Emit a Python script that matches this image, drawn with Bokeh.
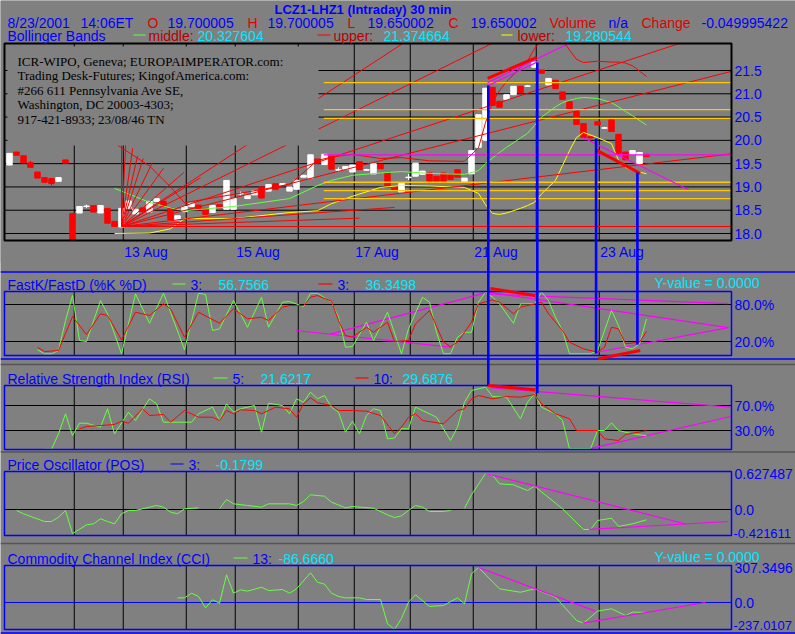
import math
from bokeh.plotting import figure
from bokeh.models import Range1d
from bokeh.core.properties import value
from bokeh.embed import file_html
from bokeh.resources import INLINE

NA = float("nan")

# ------------------------------------------------------------------ data
# 30-minute bars, index 0 = first bar shown (9 Aug 2001) ... 91 = last bar (23 Aug 14:00)
bar_open = [19.47, 19.75, 19.67, 19.52, 19.32, 19.20, 19.18, 19.12, 19.58, 18.43,
            18.44, 18.58, 18.60, 18.44, 18.54, 18.26, 18.14, 18.54, 18.42, 18.55,
            18.46, 18.69, 18.69, 18.55, 18.29, 18.47, 18.58, 18.61, 18.54, 18.45,
            18.62, 18.52, 18.52, 18.85, 18.75, 18.83, 19.00, 18.91, 19.07, 19.03,
            18.91, 18.95, 19.21, 19.19, 19.60, 19.48, 19.66, 19.36, 19.38, 19.32,
            19.54, 19.36, 19.28, 19.49, 19.31, 19.00, 18.89, 19.20, 19.23, 19.27,
            19.30, 19.23, 19.30, 19.28, 19.37, 19.12, 19.28, 19.85, 20.00, 21.14,
            20.84, 20.88, 20.98, 21.16, 21.16, 21.57, 21.51, 21.19, 21.29, 21.04,
            20.83, 20.62, 20.36, 20.08, 20.40, 20.26, 20.44, 20.13, 19.75, 19.70,
            19.48, 19.700005]
bar_close = [19.72, 19.68, 19.52, 19.42, 19.19, 19.10, 19.07, 19.20, 19.51, 17.86,
             18.58, 18.59, 18.46, 18.60, 18.22, 18.15, 18.54, 18.70, 18.52, 18.47,
             18.69, 18.75, 18.58, 18.30, 18.38, 18.58, 18.65, 18.51, 18.41, 18.60,
             18.55, 19.14, 18.75, 18.86, 18.82, 18.92, 18.76, 19.05, 18.95, 19.07,
             19.00, 19.14, 19.25, 19.69, 19.51, 19.70, 19.38, 19.37, 19.44, 19.47,
             19.37, 19.37, 19.50, 19.39, 19.02, 18.92, 19.08, 19.21, 19.51, 19.34,
             19.12, 19.12, 19.12, 19.16, 19.21, 19.19, 19.78, 20.55, 21.12, 20.75,
             20.71, 20.98, 21.16, 21.02, 21.17, 21.68, 21.44, 21.33, 21.11, 20.88,
             20.67, 20.34, 20.06, 20.05, 20.33, 20.27, 20.19, 19.72, 19.58, 19.78,
             19.74, 19.650002]
wick_idx = [3, 6, 11, 33, 47, 51, 57, 74, 85]
wick_high = [19.56, 19.18, 18.62, 18.90, 19.42, 19.39, 19.28, 21.19, 20.29]
wick_low = [19.42, 19.00, 18.55, 18.82, 19.32, 19.35, 19.15, 21.16, 20.26]

day_start_idx = [9, 16, 25, 32, 41, 49, 57, 66, 75, 84]
date_label_idx = [16, 32, 49, 66, 84]
date_labels = ["13 Aug", "15 Aug", "17 Aug", "21 Aug", "23 Aug"]

price_ticks = [18.0, 18.5, 19.0, 19.5, 20.0, 20.5, 21.0, 21.5]
price_tick_labels = ["18.0", "18.5", "19.0", "19.5", "20.0", "20.5", "21.0", "21.5"]

# Bollinger bands (read at turning points)
bb_idx = [15, 20, 23, 25, 32, 40, 44, 46, 49, 53, 56, 60, 65, 67, 68, 69, 70, 71, 73, 74,
          75, 76, 78, 79, 80, 81, 82, 84, 86, 87, 88, 89, 91]
bb_middle = [18.97, 18.67, 18.55, 18.49, 18.58, 18.75, 19.03, 19.14, 19.25, 19.30, 19.33,
             19.29, 19.27, 19.35, 19.50, 19.62, 19.74, 19.85, 20.05, 20.15, 20.32, 20.50,
             20.72, 20.81, 20.86, 20.90, 20.92, 20.90, 20.81, 20.72, 20.62, 20.53, 20.327604]
bb_lower = [18.00, 18.01, 18.10, 18.32, 18.32, 18.45, 18.49, 18.64, 18.80, 18.99, 19.03,
            19.02, 18.99, 18.86, 18.62, 18.43, 18.41, 18.44, 18.54, 18.60, 18.67, 18.85,
            19.14, 19.46, 19.78, 20.06, 20.17, 20.06, 19.93, 19.57, 19.42, 19.36, 19.280544]
bb_upper = [19.94, 19.45, 19.00, 18.66, 18.84, 19.05, 19.57, 19.64, 19.70, 19.61, 19.63,
            19.56, 19.55, 19.84, 20.38, 20.81, 21.07, 21.26, 21.56, 21.70, 21.97, 22.15,
            22.30, 22.16, 21.94, 21.74, 21.67, 21.70, 21.68, 21.68, 21.66, 21.60, 21.374664]

# analyst drawings on the price panel
fan_origin_idx = 16
fan_origin_price = 18.15
fan_end_idx = [16.0, 16.6, 17.6, 18.3, 19.1, 20.4, 22.0, 24.9, 27.3,
               56.2, 68.9, 95.7, 103.1, 103.1, 103.1, 55.0, 50.0]
fan_end_price = [19.93, 19.91, 19.83, 19.67, 19.61, 19.52, 19.40, 19.31, 19.20,
                 22.08, 22.08, 22.08, 21.48, 19.71, 18.15, 18.56, 18.33]
level_start_idx = 44.9
level_end_idx = 103.1
orange_levels = [21.24, 20.66, 20.47, 19.10, 18.92, 18.75]
magenta_levels = [19.69]
pr_mag_x0 = [68.3, 68.3, 81.9]
pr_mag_y0 = [21.24, 21.17, 20.06]
pr_mag_x1 = [79.9, 75.5, 97.0]
pr_mag_y1 = [22.08, 21.69, 18.94]
pr_red_x0 = [68.3, 83.7]
pr_red_y0 = [21.33, 19.80]
pr_red_x1 = [75.3, 90.1]
pr_red_y1 = [21.78, 19.29]
# blue vertical marker lines: from price level down into an indicator panel
marker_idx = [68.4, 75.4, 83.8, 89.7]
marker_top_price = [21.18, 21.67, 20.04, 19.31]
marker_end_panel = ["rsi", "rsi", "stoch", "stoch"]
marker_end_value = [102.0, 89.5, 0.5, 15.0]

box_lines = ["ICR-WIPO, Geneva; EUROPAIMPERATOR.com:",
             "Trading Desk-Futures; KingofAmerica.com:",
             "#266 611 Pennsylvania Ave SE,",
             "Washington, DC 20003-4303;",
             "917-421-8933; 23/08/46 TN"]

# FastK / FastD
stoch_k_idx = [4, 5, 6, 7, 8, 9, 10, 11, 13, 14, 16, 18, 20, 22, 25, 27, 28, 29, 30, 32,
               34, 36, 37, 39, 40, 42, 43, 44, 46, 47, 48, 49, 51, 52, 54, 56, 57, 59, 60, 61,
               62, 63, 64, 65, 66, 67, 68, 69, 70, 72, 73, 75, 76, 77, 78, 79, 80, 83, 84, 86,
               87, 88, 89, 90, 91]
stoch_k = [6.5, 0, 0, 5.4, 54.0, 94.5, 21.6, 20.0, 86.4, 64.9, 0, 97.3, 49.6, 98.3, 6.5,
           98.3, 96.2, 37.8, 40.5, 86.4, 43.1, 91.8, 43.1, 83.7, 84.8, 76.7, 98.3, 98.3, 83.7,
           59.4, 10.7, 11.8, 51.3, 21.6, 67.5, 0, 40.5, 91.8, 83.7, 35.0, 0, 0, 27.0, 35.0,
           35.0, 83.7, 100.0, 91.8, 81.0, 49.6, 81.0, 81.0, 100.0, 86.4, 59.4, 37.8, 0, 0,
           5.0, 70.2, 45.9, 10.7, 8.1, 16.2, 56.7566]
stoch_d_idx = [4, 5, 7, 9, 11, 13, 14, 16, 18, 20, 22, 23, 25, 27, 30, 32, 34, 36, 37, 39,
               40, 42, 43, 44, 46, 47, 48, 49, 51, 52, 54, 55, 57, 58, 60, 62, 63, 64, 65, 66,
               67, 69, 70, 72, 73, 75, 76, 77, 79, 80, 82, 84, 85, 86, 87, 88, 90, 91]
stoch_d = [10.7, 3.7, 5.4, 60.5, 31.3, 64.9, 62.1, 22.7, 67.5, 62.1, 81.0, 73.0, 27.0, 67.5,
           49.6, 73.0, 56.8, 59.4, 54.0, 75.6, 78.3, 78.3, 91.8, 94.5, 85.3, 54.0, 29.7, 27.0,
           43.1, 35.0, 51.3, 20.0, 21.6, 48.6, 70.2, 18.9, 11.8, 18.9, 35.0, 51.3, 81.0, 87.6,
           83.7, 64.9, 75.6, 81.0, 83.7, 64.9, 37.8, 18.9, 8.1, 2.7, 10.7, 43.1, 40.5, 16.2,
           18.9, 36.3498]
stoch_ticks = [80.0, 20.0]
stoch_tick_labels = ["80.0%", "20.0%"]
st_mag_x0 = [40.9, 45.9, 68.4, 83.7, 68.4]
st_mag_y0 = [37.8, 32.4, 100.0, 2.2, 97.0]
st_mag_x1 = [63.3, 68.4, 102.7, 102.7, 102.7]
st_mag_y1 = [10.5, 100.0, 42.6, 42.6, 81.5]
st_red_x0 = [68.7, 84.1]
st_red_y0 = [105.9, -8.1]
st_red_x1 = [75.1, 90.1]
st_red_y1 = [94.5, 5.4]

# RSI
rsi5_idx = [5, 6, 7, 8, 9, 10, 11, 13, 14, 15, 17, 18, 20, 21, 22, 24, 26, 27, 29, 30,
            31, 32, 33, 35, 36, 37, 39, 40, 41, 42, 43, 44, 45, 46, 47, 48, 49, 50, 51, 52,
            53, 54, 55, 56, 57, 58, 61, 63, 64, 65, 66, 68, 69, 71, 73, 74, 75, 76, 78, 79,
            80, 83, 84, 85, 86, 87, 89, 91]
rsi5 = [0, 0, 24.7, 56.7, 22.0, 41.7, 41.7, 35.3, 64.7, 24.7, 59.3, 46.0, 80.7, 72.7, 43.3,
        43.3, 43.3, 56.7, 67.3, 46.0, 72.7, 59.3, 64.7, 70.0, 27.3, 73.7, 70.0, 56.7, 80.7,
        75.3, 91.3, 80.7, 86.0, 67.3, 59.3, 27.3, 44.9, 24.7, 54.0, 64.7, 62.0, 16.7, 18.0,
        33.0, 32.7, 67.3, 51.3, 14.0, 35.3, 75.3, 94.0, 99.3, 84.4, 83.3, 48.7, 75.3, 88.7,
        67.3, 56.7, 46.0, 0.7, 0.7, 30.0, 30.0, 42.2, 30.0, 24.7, 21.6217]
rsi10_idx = [10, 11, 13, 15, 16, 17, 19, 20, 22, 23, 25, 27, 29, 30, 31, 32, 33, 35, 36, 37,
             38, 40, 41, 42, 43, 44, 46, 47, 49, 51, 53, 55, 56, 57, 58, 59, 62, 64, 65, 66,
             67, 69, 71, 73, 75, 76, 78, 80, 81, 84, 85, 87, 88, 91]
rsi10 = [32.7, 36.4, 38.0, 39.6, 44.9, 41.7, 64.7, 54.0, 55.6, 43.3, 62.0, 51.3, 51.3, 46.0,
         62.0, 56.7, 63.1, 62.0, 56.7, 62.0, 67.3, 64.7, 51.3, 72.7, 82.3, 74.3, 70.0, 62.0,
         62.0, 60.9, 54.0, 25.0, 35.3, 51.3, 56.7, 46.0, 40.7, 62.0, 64.7, 80.7, 86.0, 80.7,
         84.4, 83.3, 87.6, 72.7, 56.7, 48.7, 30.0, 30.0, 16.7, 14.0, 23.6, 29.6876]
rsi_ticks = [70.0, 30.0]
rsi_tick_labels = ["70.0%", "30.0%"]
rsi_mag_x0 = [68.7, 82.8]
rsi_mag_y0 = [98.4, 0.7]
rsi_mag_x1 = [103.0, 103.0]
rsi_mag_y1 = [67.3, 52.4]
rsi_red_x0 = [68.4]
rsi_red_y0 = [102.0]
rsi_red_x1 = [75.1]
rsi_red_y1 = [95.1]

# Price oscillator
pos_idx = [1, 2, 5, 6, 7, 8, 9, 11, 12, 13, 14, 15, 16, 17, 18, 20, 21, 22, 23, 24,
           25, 27, 28, 30, 31, 32, 34, 36, 37, 40, 41, 42, 43, 45, 46, 48, 49, 52, 54, 55,
           56, 57, 58, 59, 60, 62, 63, 64, 65, 66, 68, 69, 70, 72, 74, 75, 79, 82, 83, 84,
           86, 87, 89, 91]
pos = [-0.017, -0.075, -0.209, -0.209, -0.134, -0.017, -0.421611, -0.267, -0.250, -0.162,
       -0.209, -0.250, -0.075, -0.017, -0.017, 0.041, 0.070, 0.041, -0.046, -0.075,
       0.012, 0.029, NA, 0.012, 0.174, 0.099, 0.070, 0.041, 0.099, 0.099,
       0.070, 0.139, 0.256, 0.232, 0.128, 0.029, 0.052, 0.023, -0.093, -0.140,
       -0.110, -0.017, 0.070, 0.041, -0.035, -0.035, -0.017, NA, 0.023, 0.256,
       0.627487, 0.600, 0.448, 0.430, 0.331, 0.406, 0.012, -0.348, -0.348, -0.192,
       -0.151, -0.296, -0.250, -0.1799]
pos_ticks = [0.627487, 0.0, -0.421611]
pos_tick_labels = ["0.627487", "0.0", "-0.421611"]
pos_mag_x0 = [68.0, 82.8]
pos_mag_y0 = [0.627487, -0.348]
pos_mag_x1 = [96.6, 102.7]
pos_mag_y1 = [-0.252, -0.209]

# CCI
cci_idx = [24, 25, 26, 27, 28, 29, 30, 31, 32, 33, 34, 36, 37, 39, 40, 41, 43, 44, 45, 46,
           47, 48, 50, 51, 53, 54, 55, 56, 57, 58, 60, 62, 64, 65, 66, 67, 70, 73, 75, 78,
           81, 82, 84, 86, 88, 89, 91]
cci = [41, 41, 82, 53, -47, 24, -6, 243, 82, 111, 100, 134, 105, 114, 82, 120, 261, 178, 161,
       82, 53, 41, 41, 26, 26, -187, -237.0107, -140, 3, 68, -35, -26, 41, -12, 252, 307.3496,
       120, 90, 120, 47, -158, -181, -76, -55, -114, -85, -86.666]
cci_ticks = [307.3496, 0.0, -237.0107]
cci_tick_labels = ["307.3496", "0.0", "-237.0107"]
cci_mag_x0 = [67.0, 81.9]
cci_mag_y0 = [307.3496, -181.0]
cci_mag_x1 = [83.7, 99.4]
cci_mag_y1 = [-76.0, 0.0]

# header values (last bar)
hdr_date, hdr_time = "8/23/2001", "14:06ET"
last_o, last_h, last_l, last_c = 19.700005, 19.700005, 19.650002, 19.650002
last_change = -0.049995422
bb_last = (20.327604, 21.374664, 19.280544)
stoch_last = ((3, 56.7566), (3, 36.3498))
rsi_last = ((5, 21.6217), (10, 29.6876))
pos_last = (3, -0.1799)
cci_last = (13, -86.6660)

# ------------------------------------------------------------------ layout
REF_W, REF_H = 795, 634
W, H = 795, 634
X0, DX = 9.0, 7.0          # reference-pixel position of bar 0 and bar spacing
GRID_SHIFT = 0.25


def ix(px):
    return (px - X0) / DX


PANEL_ANCHORS = {
    "price": ((70.0, 21.5), (233.0, 18.0)),
    "stoch": ((304.0, 80.0), (341.0, 20.0)),
    "rsi": ((405.0, 70.0), (430.0, 30.0)),
    "pos": ((473.0, 0.627487), (509.0, 0.0)),
    "cci": ((567.0, 307.3496), (602.0, 0.0)),
}
FRAMES = {"price": (43, 240), "stoch": (291, 355), "rsi": (385, 449),
          "pos": (471, 535), "cci": (565, 629)}


def val_at(panel, py):
    (ya, va), (yb, vb) = PANEL_ANCHORS[panel]
    return va + (py - ya) * (vb - va) / (yb - ya)


def py_of(panel, v):
    (ya, va), (yb, vb) = PANEL_ANCHORS[panel]
    return ya + (v - va) * (yb - ya) / (vb - va)


def RN(panel):
    return "default" if panel == "price" else panel


FL, FR = ix(4), ix(731)

GRAY = "#808080"
BLUE = "#0000FF"
RED = "#FF0000"
TXT_RED = "#E00000"
LBL_RED = "#B80000"
CYAN = "#00E8FF"
GREEN = "#66FF44"
YELLOW = "#FFFF00"
ORANGE = "#FFC800"
MAGENTA = "#FF00FF"
WHITE = "#FFFFFF"
BLACK = "#000000"
SANS = "Liberation Sans"
SERIF = "Liberation Serif"
FS = "14px"

p = figure(width=W, height=H, x_range=Range1d(ix(0), ix(REF_W)),
           y_range=Range1d(val_at("price", REF_H), val_at("price", 0)),
           x_axis_type=None, y_axis_type=None, title=None, tools="",
           toolbar_location=None, output_backend="svg",
           background_fill_color=GRAY, border_fill_color=GRAY,
           min_border=0, min_border_left=0, min_border_right=0,
           min_border_top=0, min_border_bottom=0, outline_line_color=None)
p.extra_y_ranges = {n: Range1d(val_at(n, REF_H), val_at(n, 0))
                    for n in ["stoch", "rsi", "pos", "cci"]}


def seg(panel, x0, y0, x1, y1, color, width=1.0):
    p.segment(x0=list(x0), y0=list(y0), x1=list(x1), y1=list(y1),
              line_color=color, line_width=width, y_range_name=RN(panel))


def poly(panel, xs, ys, color, width=1.0):
    p.line(x=list(xs), y=list(ys), line_color=color, line_width=width,
           y_range_name=RN(panel))


def fill_ref(x0, x1, y0, y1, color=GRAY):
    p.quad(left=[ix(x0)], right=[ix(x1)], top=[val_at("price", y0)],
           bottom=[val_at("price", y1)], fill_color=color, line_color=None)


def frame(panel, color, width):
    top, bot = FRAMES[panel]
    p.quad(left=[FL], right=[FR], top=[val_at(panel, top)], bottom=[val_at(panel, bot)],
           fill_color=None, line_color=color, line_width=width, y_range_name=RN(panel))


def grid(panel, levels, level_color=BLACK):
    top, bot = FRAMES[panel]
    gx = [d + GRID_SHIFT for d in day_start_idx]
    seg(panel, gx, [val_at(panel, bot)] * len(gx), gx, [val_at(panel, top)] * len(gx), BLACK)
    if levels:
        seg(panel, [FL] * len(levels), levels, [FR] * len(levels), levels, level_color)


def text_row(items, y_ref, size=FS, style="normal", font=SANS):
    p.text(x=[ix(x) for _, x, _ in items], y=[val_at("price", y_ref)] * len(items),
           text=[t for t, _, _ in items], text_color=[c for _, _, c in items],
           text_font=value(font), text_font_size=value(size), text_font_style=style,
           text_align="left", text_baseline="middle")


def dashes(items):
    seg("price", [ix(a) for a, _, _, _ in items], [val_at("price", y) for _, _, y, _ in items],
        [ix(b) for _, b, _, _ in items], [val_at("price", y) for _, _, y, _ in items],
        [c for _, _, _, c in items], 1.2)


def right_labels(panel, ticks, labels, y_offset=0, size=FS, x_ref=734):
    p.text(x=[ix(x_ref)] * len(ticks), y=ticks, text=labels, text_color=BLUE,
           text_font=value(SANS), text_font_size=value(size), text_align="left",
           text_baseline="middle", y_offset=y_offset, y_range_name=RN(panel))


# ------------------------------------------------------------- price panel
grid("price", price_ticks)
colors = [WHITE if c >= o else RED for o, c in zip(bar_open, bar_close)]
bar_idx = list(range(len(bar_open)))
p.segment(x0=wick_idx, x1=wick_idx, y0=wick_low, y1=wick_high,
          line_color=[colors[i] for i in wick_idx], line_width=1)
p.vbar(x=bar_idx, width=0.78, bottom=bar_open, top=bar_close,
       fill_color=colors, line_color=colors, line_width=1)
poly("price", bb_idx, bb_lower, YELLOW)
poly("price", bb_idx, bb_middle, GREEN)
poly("price", bb_idx, bb_upper, RED)
seg("price", [fan_origin_idx] * len(fan_end_idx), [fan_origin_price] * len(fan_end_idx),
    fan_end_idx, fan_end_price, RED)
seg("price", [level_start_idx] * len(orange_levels), orange_levels,
    [level_end_idx] * len(orange_levels), orange_levels, ORANGE, 1.3)
seg("price", [level_start_idx], magenta_levels, [level_end_idx], magenta_levels, MAGENTA, 1.3)
# opaque annotation box
fill_ref(7, 318, 46, 145)
p.text(x=[ix(17)] * len(box_lines), y=[val_at("price", y) for y in [61, 75, 89.5, 104, 118.5]],
       text=box_lines, text_color=BLACK, text_font=value(SERIF),
       text_font_size=value("13px"), text_align="left", text_baseline="middle")
seg("price", pr_mag_x0, pr_mag_y0, pr_mag_x1, pr_mag_y1, MAGENTA, 1.2)
seg("price", pr_red_x0, pr_red_y0, pr_red_x1, pr_red_y1, RED, 3)
# masks outside the price frame
fill_ref(0, REF_W, 0, 43)
fill_ref(731, REF_W, 43, 262)
fill_ref(0, REF_W, 240, 262)
fill_ref(0, 4, 43, 240)
frame("price", BLACK, 2)

# ------------------------------------------------------------- stochastic
grid("stoch", stoch_ticks)
seg("stoch", st_mag_x0, st_mag_y0, st_mag_x1, st_mag_y1, MAGENTA, 1.2)
poly("stoch", stoch_k_idx, stoch_k, GREEN)
poly("stoch", stoch_d_idx, stoch_d, RED)
frame("stoch", BLUE, 1.5)

# ------------------------------------------------------------- RSI
grid("rsi", rsi_ticks)
seg("rsi", rsi_mag_x0, rsi_mag_y0, rsi_mag_x1, rsi_mag_y1, MAGENTA, 1.2)
poly("rsi", rsi5_idx, rsi5, GREEN)
poly("rsi", rsi10_idx, rsi10, RED)
frame("rsi", BLUE, 1.5)

# ------------------------------------------------------------- POS
grid("pos", [0.0])
poly("pos", pos_idx, pos, GREEN)
seg("pos", pos_mag_x0, pos_mag_y0, pos_mag_x1, pos_mag_y1, MAGENTA, 1.2)
frame("pos", BLUE, 1.5)

# ------------------------------------------------------------- CCI
grid("cci", [])
seg("cci", [FL], [0.0], [FR], [0.0], BLUE, 1.2)
poly("cci", cci_idx, cci, GREEN)
seg("cci", cci_mag_x0, cci_mag_y0, cci_mag_x1, cci_mag_y1, MAGENTA, 1.2)
frame("cci", BLUE, 1.5)

# ------------------------------------------------------------- separators
sep_blue = [271.5, 358.5, 632.5]
sep_dark = [364.0, 451.5, 543.0]
seg("price", [ix(0)] * 3, [val_at("price", y) for y in sep_blue], [ix(REF_W)] * 3,
    [val_at("price", y) for y in sep_blue], BLUE, 1.5)
seg("price", [ix(0)] * 3, [val_at("price", y) for y in sep_dark], [ix(REF_W)] * 3,
    [val_at("price", y) for y in sep_dark], "#555555", 1.5)

# ------------------------------------------------------------- texts
text_row([("LCZ1-LHZ1 (Intraday) 30 min", 274, BLUE)], 9, size="13px", style="bold")
text_row([(hdr_date, 7, BLUE), (hdr_time, 80, BLUE),
          ("O", 147, TXT_RED), (f"{last_o:.6f}", 167, BLUE),
          ("H", 247, TXT_RED), (f"{last_h:.6f}", 267, BLUE),
          ("L", 347, TXT_RED), (f"{last_l:.6f}", 367, BLUE),
          ("C", 448, TXT_RED), (f"{last_c:.6f}", 470, BLUE),
          ("Volume", 549, TXT_RED), ("n/a", 608, BLUE),
          ("Change", 641, TXT_RED), (f"{last_change}", 701, BLUE)], 22)
text_row([("Bollinger Bands", 7, BLUE),
          ("middle:", 148, LBL_RED), (f"{bb_last[0]:.6f}", 197, CYAN),
          ("upper:", 333, LBL_RED), (f"{bb_last[1]:.6f}", 383, CYAN),
          ("lower:", 517, LBL_RED), (f"{bb_last[2]:.6f}", 565, CYAN)], 35)
dashes([(133, 145, 34.5, GREEN), (317, 330, 34.5, RED), (501, 512, 34.5, YELLOW)])

text_row([("FastK/FastD (%K %D)", 7, BLUE),
          (f"{stoch_last[0][0]}:", 190, BLUE), (f"{stoch_last[0][1]:.4f}", 218, CYAN),
          (f"{stoch_last[1][0]}:", 337, BLUE), (f"{stoch_last[1][1]:.4f}", 365, CYAN)], 284)
text_row([("Y-value = 0.0000", 654, CYAN)], 282)
dashes([(172, 185, 283.5, GREEN), (318, 332, 283.5, RED)])

text_row([("Relative Strength Index (RSI)", 7, BLUE),
          (f"{rsi_last[0][0]}:", 232, BLUE), (f"{rsi_last[0][1]:.4f}", 260, CYAN),
          (f"{rsi_last[1][0]}:", 373, BLUE), (f"{rsi_last[1][1]:.4f}", 402, CYAN)], 378)
dashes([(213, 227, 377.5, GREEN), (355, 368, 377.5, RED)])

text_row([("Price Oscillator (POS)", 7, BLUE),
          (f"{pos_last[0]}:", 188, BLUE), (f"{pos_last[1]:.4f}", 215, CYAN)], 464)
dashes([(170, 183, 463.5, BLUE)])

text_row([("Commodity Channel Index (CCI)", 7, BLUE),
          (f"{cci_last[0]}:", 252, BLUE), (f"{cci_last[1]:.4f}", 278, CYAN)], 558)
text_row([("Y-value = 0.0000", 654, CYAN)], 556)
dashes([(233, 247, 557.5, GREEN)])

right_labels("price", price_ticks, price_tick_labels)
right_labels("stoch", stoch_ticks, stoch_tick_labels)
right_labels("rsi", rsi_ticks, rsi_tick_labels)
right_labels("pos", pos_ticks[:2], pos_tick_labels[:2])
right_labels("pos", pos_ticks[2:], pos_tick_labels[2:], size="13px", x_ref=733)
right_labels("cci", cci_ticks[:2], cci_tick_labels[:2])
right_labels("cci", cci_ticks[2:], cci_tick_labels[2:], y_offset=-4, size="13px", x_ref=733)

p.text(x=[d + GRID_SHIFT + 1.0 / DX for d in date_label_idx],
       y=[val_at("price", 251)] * len(date_label_idx), text=date_labels, text_color=BLUE,
       text_font=value(SANS), text_font_size=value(FS), text_align="left",
       text_baseline="middle")

# ------------------------------------------------------------- markers on top
marker_end_price = [val_at("price", py_of(pn, v)) for pn, v in zip(marker_end_panel, marker_end_value)]
seg("price", marker_idx, marker_top_price, marker_idx, marker_end_price, BLUE, 2.6)
seg("stoch", st_red_x0, st_red_y0, st_red_x1, st_red_y1, RED, 3)
seg("rsi", rsi_red_x0, rsi_red_y0, rsi_red_x1, rsi_red_y1, RED, 3)

open("out.html", "w").write(file_html(p, INLINE, "LCZ1-LHZ1 (Intraday) 30 min"))
